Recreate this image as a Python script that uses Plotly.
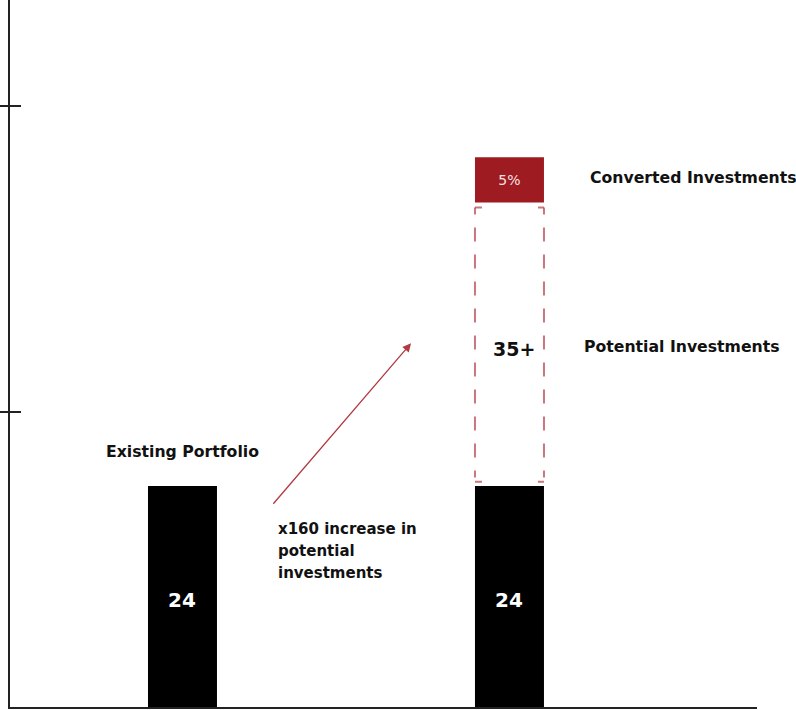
import plotly.graph_objects as go

# ---- data ----
categories = ["Existing Portfolio", "Potential"]
x_pos = [0, 1]
existing_values = [24, 24]
existing_labels = ["24", "24"]
potential_height = 29.8      # visual height of dashed "35+" box
potential_label = "35+"
converted_height = 4.9       # visual height of red box
converted_label = "5%"
gap_1 = 0.45
gap_2 = 0.55
y_ticks = [32, 65.3]
arrow_text_lines = ["x160 increase in", "potential", "investments"]
series_names = ["Converted Investments", "Potential Investments"]

RED = "#9e1b21"
DASH_RED = "rgba(180,60,70,0.7)"
FONT = "DejaVu Sans"
BAR_W = 0.211

pot_base = existing_values[1] + gap_1
pot_top = pot_base + potential_height
conv_base = pot_top + gap_2

fig = go.Figure()
fig.add_trace(go.Bar(
    x=x_pos, y=existing_values, width=BAR_W, marker=dict(color="black", line=dict(width=0)),
    hoverinfo="skip", showlegend=False))
fig.add_trace(go.Bar(
    x=[x_pos[1]], y=[converted_height], base=[conv_base], width=BAR_W,
    marker=dict(color=RED, line=dict(width=0)),
    text=[converted_label], textposition="inside", insidetextanchor="middle",
    textfont=dict(family=FONT, size=14, color="#f5e2e2"), hoverinfo="skip", showlegend=False))
# invisible trace for overlaying axis
fig.add_trace(go.Scatter(x=[x_pos[0]], y=[0], yaxis="y2", mode="markers",
                         marker=dict(opacity=0), hoverinfo="skip", showlegend=False))

# dashed box via line segments
x0 = x_pos[1] - BAR_W / 2
x1 = x_pos[1] + BAR_W / 2
horiz_dash = "7px,56px,7px,56px"
vert_dash = "7px,13px" + ",14px,13px" * 9 + ",7px,300px"
for (xa, ya, xb, yb, d) in [
    (x0, pot_top, x1, pot_top, horiz_dash),
    (x0, pot_base, x1, pot_base, horiz_dash),
    (x0, pot_top, x0, pot_base, vert_dash),
    (x1, pot_top, x1, pot_base, vert_dash),
]:
    fig.add_shape(type="line", x0=xa, y0=ya, x1=xb, y1=yb, xref="x", yref="y",
                  line=dict(color=DASH_RED, width=2, dash=d))

txt = dict(family=FONT, size=15.7, color="#111111", weight=700)
ann = []
for xv, yv, lab in zip(x_pos, existing_values, existing_labels):
    ann.append(dict(x=xv, y=yv / 2 - 0.4, text=lab, showarrow=False,
                    font=dict(family=FONT, size=20, color="white", weight=700)))
ann.append(dict(x=x_pos[1] + 0.015, y=(pot_base + pot_top) / 2 - 0.5, text=potential_label,
                showarrow=False, font=dict(family=FONT, size=19, color="#111111", weight=700)))
ann.append(dict(x=x_pos[0], y=existing_values[0] + 3.7, text=categories[0], showarrow=False,
                font=txt))
ann.append(dict(x=x_pos[1] + 0.24, y=conv_base + converted_height / 2 + 0.23, text=series_names[0],
                showarrow=False, xanchor="left", font=txt))
ann.append(dict(x=x_pos[1] + 0.222, y=(pot_base + pot_top) / 2 - 0.23, text=series_names[1],
                showarrow=False, xanchor="left", font=txt))
for i, line in enumerate(arrow_text_lines):
    ann.append(dict(x=0.286, y=19.3 - i * 2.39, text=line, showarrow=False, xanchor="left",
                    font=dict(family=FONT, size=15, color="#111111", weight=700)))
ann.append(dict(x=0.699, y=39.5, ax=-139, ay=162, text="", showarrow=True,
                arrowhead=2, arrowsize=1.3, arrowwidth=1.3, arrowcolor="#b23a42", standoff=0))

fig.update_layout(
    width=796, height=710, margin=dict(l=10, r=39, t=0, b=3),
    plot_bgcolor="white", paper_bgcolor="white", barmode="overlay",
    annotations=ann,
    xaxis=dict(range=[-0.5275, 1.757], showline=True, linecolor="#222222", linewidth=2,
               showticklabels=False, ticks="", showgrid=False, zeroline=False, fixedrange=True),
    yaxis=dict(range=[0, 76.78], showline=True, linecolor="#222222", linewidth=2,
               tickvals=y_ticks, ticks="outside", ticklen=9, tickwidth=2, tickcolor="#222222",
               showticklabels=False, showgrid=False, zeroline=False),
    yaxis2=dict(overlaying="y", matches="y", side="left", tickvals=y_ticks, ticks="inside",
                ticklen=11, tickwidth=2, tickcolor="#222222", showticklabels=False,
                showgrid=False, zeroline=False, showline=False),
)
fig.write_html("out.html", config={"displayModeBar": False},
               post_script="document.body.style.margin='0';")
